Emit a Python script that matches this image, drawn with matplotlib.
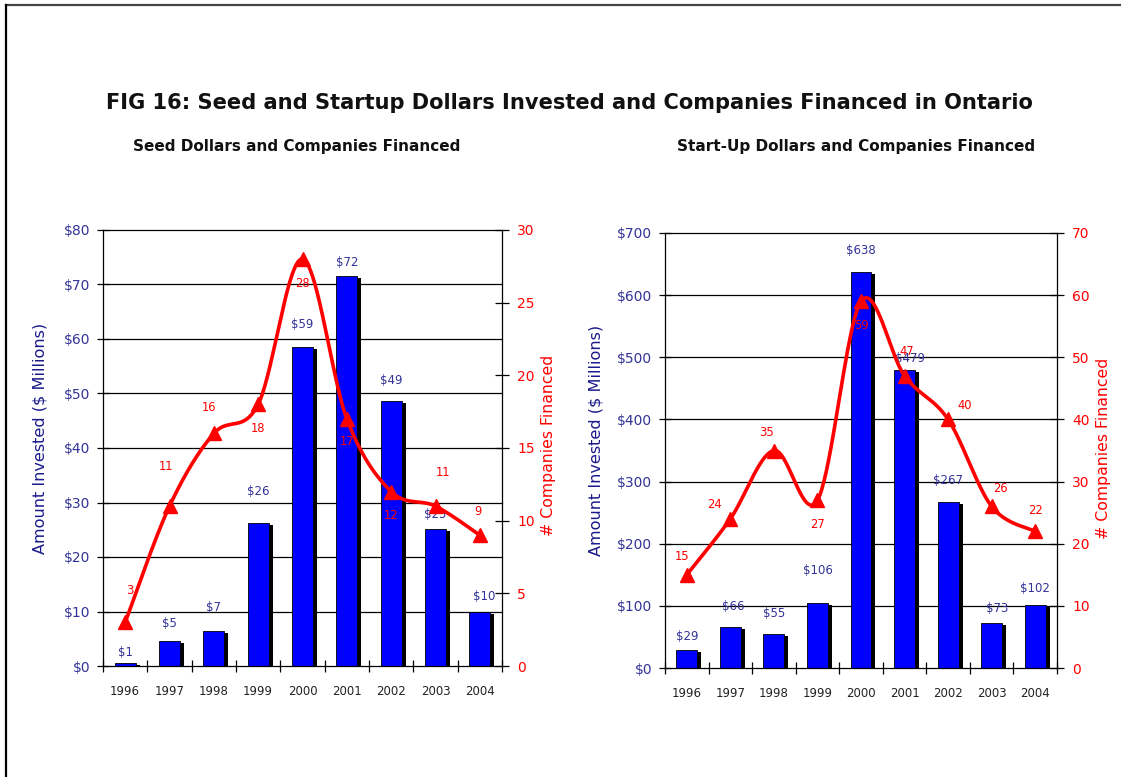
import numpy as np
import matplotlib
matplotlib.use("Agg")
import matplotlib.pyplot as plt
from matplotlib.lines import Line2D
from matplotlib.ticker import MultipleLocator, FuncFormatter, FixedLocator
from matplotlib.transforms import ScaledTranslation

# data
years = ["1996", "1997", "1998", "1999", "2000", "2001", "2002", "2003", "2004"]

seed_dollars = [0.5, 4.5, 6.5, 26.2, 58.6, 71.5, 48.6, 25.1, 9.9]
seed_dollar_labels = ["$1", "$5", "$7", "$26", "$59", "$72", "$49", "$25", "$10"]
seed_companies = [3, 11, 16, 18, 28, 17, 12, 11, 9]

startup_dollars = [29, 66, 54, 105, 638, 479, 267, 73, 101]
startup_dollar_labels = ["$29", "$66", "$55", "$106", "$638", "$479", "$267", "$73", "$102"]
startup_companies = [15, 24, 35, 27, 59, 47, 40, 26, 22]

# label placement (pixels from the point), tuned by eye
seed_bar_off = [(0, 11), (0, 18), (0, 23), (0, 32), (0, 22), (0, 14), (0, 21), (0, 15), (4, 16)]
seed_cnt_off = [(5, 32), (-3, 40), (-5, 26), (0, -24), (0, -24), (0, -23), (0, -24), (8, 34), (-2, 24)]
start_bar_off = [(0, 13), (3, 20), (0, 21), (0, 32), (0, 21), (5, 12), (0, 22), (6, 14), (0, 17)]
start_cnt_off = [(-5, 18), (-16, 14), (-7, 18), (0, -24), (0, -24), (2, 24), (17, 14), (9, 18), (0, 21)]

NAVY = "#333399"
NAVY_DARK = "#1a1a8c"
RED = "#ff0000"


def smooth(x, y, n=40):
    # bezier through the points, like a spreadsheet "smoothed line"
    pts = np.column_stack([x, y]).astype(float)
    P = np.vstack([pts[0], pts, pts[-1]])
    t = np.linspace(0, 1, n)[:, None]
    out = []
    for i in range(1, len(P) - 2):
        p0, p1, p2, p3 = P[i - 1], P[i], P[i + 1], P[i + 2]
        c1 = p1 + (p2 - p0) / 6
        c2 = p2 - (p3 - p1) / 6
        seg = (1 - t) ** 3 * p1 + 3 * (1 - t) ** 2 * t * c1 + 3 * (1 - t) * t ** 2 * c2 + t ** 3 * p2
        out.append(seg if i == 1 else seg[1:])
    out = np.vstack(out)
    return out[:, 0], out[:, 1]


def panel(fig, rect, dollars, dlabels, companies, ymax, ystep, cmax, cstep,
          bar_off, cnt_off, ylab_x, ylab2_x):
    ax = fig.add_axes(rect)
    x = np.arange(len(years))

    for v in np.arange(ystep, ymax + ystep / 2, ystep):
        ax.axhline(v, color="black", lw=0.9, zorder=0.5, clip_on=False)

    shadow = ax.transData + ScaledTranslation(4 / 100, -2 / 100, fig.dpi_scale_trans)
    ax.bar(x, dollars, width=0.48, color="black", zorder=1.5, transform=shadow)
    ax.bar(x, dollars, width=0.48, color="#0000ff", edgecolor="black", lw=0.6, zorder=2)

    for xi, v, lab, (dx, dy) in zip(x, dollars, dlabels, bar_off):
        ax.annotate(lab, (xi, v), xytext=(dx, dy), textcoords="offset pixels",
                    ha="center", va="center", fontsize=8.5, color=NAVY, zorder=3)

    ax.set_xlim(-0.5, len(years) - 0.5)
    ax.set_ylim(0, ymax)
    ax.yaxis.set_major_locator(MultipleLocator(ystep))
    ax.yaxis.set_major_formatter(FuncFormatter(lambda v, p: f"${v:.0f}"))
    ax.tick_params(axis="y", direction="inout", length=8, width=0.9, colors="black",
                   labelcolor=NAVY, labelsize=10, pad=5)
    ax.set_xticks(x)
    ax.set_xticklabels(years)
    ax.xaxis.set_minor_locator(FixedLocator(np.arange(-0.5, len(years), 1.0)))
    ax.tick_params(axis="x", which="major", length=0, labelsize=8.5, labelcolor="#222222", pad=14)
    ax.tick_params(axis="x", which="minor", direction="inout", length=8, width=0.9)
    for s in ("top", "right"):
        ax.spines[s].set_visible(False)
    ax.spines["left"].set_linewidth(0.9)
    ax.spines["bottom"].set_linewidth(0.9)
    ax.set_ylabel("Amount Invested ($ Millions)", fontsize=11.6, color=NAVY_DARK)
    ax.yaxis.set_label_coords(ylab_x, 0.523)

    ax2 = ax.twinx()
    sx, sy = smooth(x, companies)
    ax2.plot(sx, sy, color=RED, lw=2.6, solid_capstyle="round", zorder=3)
    ax2.plot(x, companies, ls="none", marker="^", ms=10, color=RED, zorder=4)
    for xi, c, (dx, dy) in zip(x, companies, cnt_off):
        ax2.annotate(str(c), (xi, c), xytext=(dx, dy), textcoords="offset pixels",
                     ha="center", va="center", fontsize=8.3, color=RED, zorder=5)
    ax2.set_ylim(0, cmax)
    ax2.yaxis.set_major_locator(MultipleLocator(cstep))
    ax2.tick_params(axis="y", direction="inout", length=10, width=0.9, colors="black",
                    labelcolor=RED, labelsize=10, pad=6)
    for s in ("top", "left", "bottom"):
        ax2.spines[s].set_visible(False)
    ax2.spines["right"].set_linewidth(0.9)
    ax2.set_ylabel("# Companies Financed", fontsize=11.3, color=RED)
    ax2.yaxis.set_label_coords(ylab2_x, 0.505)
    return ax, ax2


fig = plt.figure(figsize=(11.21, 7.77), dpi=100)
fig.patch.set_facecolor("white")

W, H = 1121, 777
left_rect = [103 / W, 1 - 666 / H, 399 / W, 436 / H]
right_rect = [665 / W, 1 - 668 / H, 392 / W, 435 / H]

panel(fig, left_rect, seed_dollars, seed_dollar_labels, seed_companies,
      80, 10, 30, 5, seed_bar_off, seed_cnt_off, -0.138, 1.098)
panel(fig, right_rect, startup_dollars, startup_dollar_labels, startup_companies,
      700, 100, 70, 10, start_bar_off, start_cnt_off, -0.158, 1.099)

fig.text(569 / W, 1 - 103 / H, "FIG 16: Seed and Startup Dollars Invested and Companies Financed in Ontario",
         ha="center", va="center", fontsize=15.1, fontweight="bold", color="#111111")
fig.text(297 / W, 1 - 146 / H, "Seed Dollars and Companies Financed",
         ha="center", va="center", fontsize=11, fontweight="bold", color="#111111")
fig.text(856 / W, 1 - 146 / H, "Start-Up Dollars and Companies Financed",
         ha="center", va="center", fontsize=11, fontweight="bold", color="#111111")

# page frame, top and left edges
fig.add_artist(Line2D([6 / W, 1], [1 - 5 / H, 1 - 5 / H], color="#444444", lw=1.6))
fig.add_artist(Line2D([6 / W, 6 / W], [0, 1 - 5 / H], color="black", lw=1.6))

fig.savefig("out.png", dpi=100)
